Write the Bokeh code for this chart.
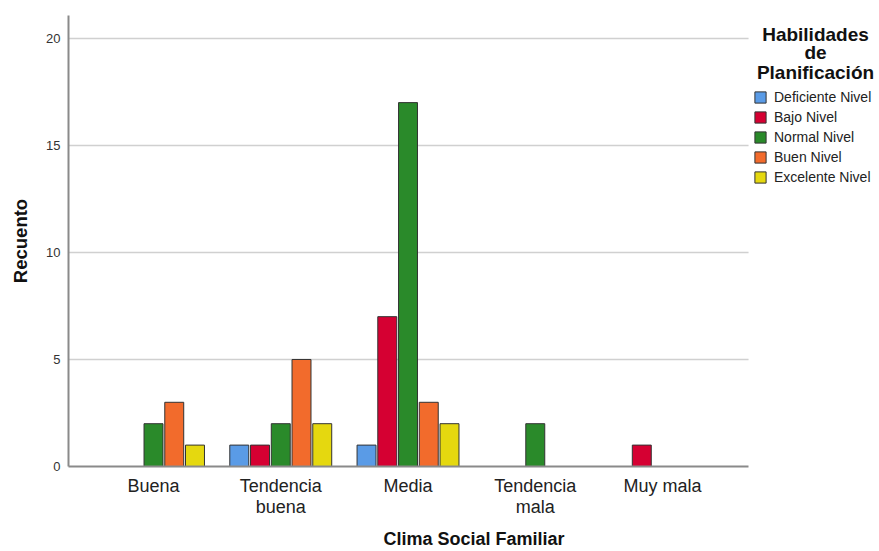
from bokeh.plotting import figure
from bokeh.models import Range1d, FixedTicker, Legend, LegendItem, Label, ColumnDataSource
from bokeh.embed import file_html
from bokeh.resources import INLINE

categories = ["Buena", "Tendencia\nbuena", "Media", "Tendencia\nmala", "Muy mala"]
series_names = ["Deficiente Nivel", "Bajo Nivel", "Normal Nivel", "Buen Nivel", "Excelente Nivel"]
deficiente = [0, 1, 1, 0, 0]
bajo = [0, 1, 7, 0, 1]
normal = [2, 2, 17, 2, 0]
buen = [3, 5, 3, 0, 0]
excelente = [1, 2, 2, 0, 0]
y_ticks = [0, 5, 10, 15, 20]
colors = ["#5A9BE6", "#D50032", "#2A8A2A", "#F26B2C", "#E5D80F"]
legend_title = "Habilidades\nde\nPlanificación"

series = [deficiente, bajo, normal, buen, excelente]
FONT = "Liberation Sans"

# layout constants (data units of the x scale)
X_START = -0.168
X_AXIS_END = 5.176
X_END = 6.205
Y_END = 21.07

p = figure(width=879, height=551, output_backend="svg", toolbar_location=None,
           x_range=Range1d(X_START, X_END), y_range=Range1d(0, Y_END),
           min_border_left=68, min_border_right=0, min_border_top=15, min_border_bottom=84)
p.outline_line_color = None
p.background_fill_color = "white"
p.xgrid.grid_line_color = None
p.ygrid.grid_line_color = None

# horizontal gridlines, stopping where the x axis ends
grid_y = [t for t in y_ticks if t > 0]
gsrc = ColumnDataSource(dict(x0=[X_START] * len(grid_y), x1=[X_AXIS_END] * len(grid_y), y=grid_y))
p.segment(x0="x0", x1="x1", y0="y", y1="y", source=gsrc, line_color="#D0D0D0",
          line_width=1.5, level="underlay")

step = 0.163
width = 0.149
items = []
for i, (name, vals, col) in enumerate(zip(series_names, series, colors)):
    xs = [c + 0.5 + (i - 2) * step for c, v in enumerate(vals) if v > 0]
    ys = [v for v in vals if v > 0]
    src = ColumnDataSource(dict(x=xs, top=ys))
    r = p.vbar(x="x", top="top", width=width, bottom=0, source=src,
               fill_color=col, line_color="#333333", line_width=1)
    items.append(LegendItem(label=name, renderers=[r]))

legend = Legend(items=items, location=(685, 281), glyph_width=14, glyph_height=14,
                label_text_font=FONT, label_text_font_size="14px", label_text_color="#222222",
                spacing=4, padding=0, margin=0, border_line_color=None,
                background_fill_alpha=0, label_standoff=7, label_height=14)
p.add_layout(legend, "center")

title_y = [20.20, 19.32, 18.43]
for line, ty in zip(legend_title.split("\n"), title_y):
    p.add_layout(Label(x=5.702, y=ty, text=line, text_font=FONT, text_font_style="bold",
                       text_font_size="19px", text_align="center", text_baseline="alphabetic",
                       text_color="#111111"))

# x axis
p.xaxis.ticker = FixedTicker(ticks=[c + 0.5 for c in range(len(categories))])
p.xaxis.major_label_overrides = {c + 0.5: lab for c, lab in enumerate(categories)}
p.xaxis.bounds = (X_START, X_AXIS_END)
p.xaxis.major_label_text_font = FONT
p.xaxis.major_label_text_font_size = "18px"
p.xaxis.major_label_text_color = "#222222"
p.xaxis.major_label_text_line_height = 1.05
p.xaxis.axis_label = "Clima Social Familiar"
p.xaxis.axis_label_text_font = FONT
p.xaxis.axis_label_text_font_style = "bold"
p.xaxis.axis_label_text_font_size = "18px"
p.xaxis.axis_label_text_color = "#111111"
p.xaxis.axis_label_standoff = 9
p.xaxis.major_label_standoff = 3

# y axis
p.yaxis.ticker = FixedTicker(ticks=y_ticks)
p.yaxis.major_label_text_font = FONT
p.yaxis.major_label_text_font_size = "13px"
p.yaxis.major_label_text_color = "#333333"
p.yaxis.axis_label = "Recuento"
p.yaxis.axis_label_text_font = FONT
p.yaxis.axis_label_text_font_style = "bold"
p.yaxis.axis_label_text_font_size = "18.5px"
p.yaxis.axis_label_text_color = "#111111"
p.yaxis.axis_label_standoff = 12
p.yaxis.major_label_standoff = 2

for ax in (p.xaxis, p.yaxis):
    ax.axis_line_color = "#8A8A8A"
    ax.axis_line_width = 2
    ax.major_tick_line_color = None
    ax.minor_tick_line_color = None

open("out.html", "w").write(file_html(p, INLINE))
